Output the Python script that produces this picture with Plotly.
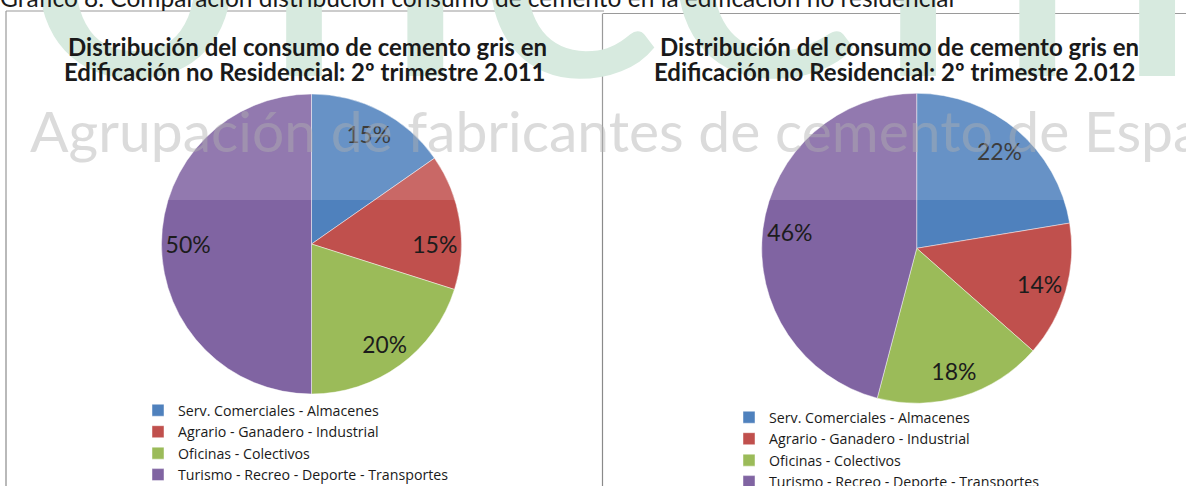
import plotly.graph_objects as go

W, H = 1186, 486

categorias = ["Serv. Comerciales - Almacenes",
              "Agrario - Ganadero - Industrial",
              "Oficinas - Colectivos",
              "Turismo - Recreo - Deporte - Transportes"]
colores = ["#4F81BD", "#C0504D", "#9BBB59", "#8064A2"]

# porcentajes
valores_2011 = [15.3, 14.6, 20.1, 50.0]
valores_2012 = [22.4, 14.1, 17.6, 45.9]

titulo_2011 = ["Distribución del consumo de cemento gris en",
               "Edificación no Residencial: 2º trimestre 2.011"]
titulo_2012 = ["Distribución del consumo de cemento gris en",
               "Edificación no Residencial: 2º trimestre 2.012"]
rotulo = "Gráfico 8. Comparación distribución consumo de cemento en la edificación no residencial"
marca_verde = "oficemen"
marca_gris = "Agrupación de fabricantes de cemento de España"


def fx(x):
    return x / W


def fy(y):
    return 1 - y / H


def dominio(cx, cy, r):
    return dict(x=[fx(cx - r), fx(cx + r)], y=[fy(cy + r), fy(cy - r)])


fig = go.Figure()

pies = [(valores_2011, dominio(311.5, 244, 150), "legend", "a2011"),
        (valores_2012, dominio(916.7, 248.3, 155), "legend2", "a2012")]

for vals, dom, leg, grupo in pies:
    # tarta con colores y leyenda
    fig.add_trace(go.Pie(
        labels=categorias, values=vals, domain=dom, sort=False,
        direction="clockwise", rotation=0,
        marker=dict(colors=colores, line=dict(color="rgba(255,255,255,0.45)", width=1)),
        textinfo="none", legend=leg, legendgroup=grupo, hoverinfo="label+percent"))
    # misma tarta en anillo transparente solo para colocar las etiquetas
    fig.add_trace(go.Pie(
        labels=categorias, values=vals, domain=dom, sort=False,
        direction="clockwise", rotation=0, hole=0.65,
        marker=dict(colors=["rgba(0,0,0,0)"] * 4, line=dict(width=0)),
        texttemplate="%{percent:.0%}", textposition="inside",
        insidetextorientation="horizontal",
        insidetextfont=dict(family="Lato", size=23, color="#1c1c1c"),
        showlegend=False, legendgroup=grupo, hoverinfo="skip"))

titulo_font = dict(family="Lato", size=24, color="#1a1a1a", weight="bold")

annotations = [
    dict(text=marca_verde, x=fx(20), y=fy(163), xanchor="left", yanchor="bottom",
         font=dict(family="Lato", size=400, color="#d7eadf"), showarrow=False),
    dict(text=rotulo, x=fx(-2), y=fy(13.7), xanchor="left", yanchor="bottom",
         font=dict(family="Lato", size=24.5, color="#1a1a1a"), showarrow=False),
    dict(text=titulo_2011[0], x=fx(66), y=fy(46), xanchor="left", yanchor="middle",
         font=titulo_font, showarrow=False),
    dict(text=titulo_2011[1], x=fx(62), y=fy(71.5), xanchor="left", yanchor="middle",
         font=titulo_font, showarrow=False),
    dict(text=titulo_2012[0], x=fx(658), y=fy(46), xanchor="left", yanchor="middle",
         font=titulo_font, showarrow=False),
    dict(text=titulo_2012[1], x=fx(652), y=fy(71.5), xanchor="left", yanchor="middle",
         font=titulo_font, showarrow=False),
    dict(text=marca_gris, x=fx(28), y=fy(166), xanchor="left", yanchor="bottom",
         font=dict(family="Lato", size=57, color="rgba(175,175,175,0.45)"),
         showarrow=False),
]

lineas = dict(type="line", xref="paper", yref="paper", line=dict(color="#8a8a8a", width=1.2))
shapes = [
    dict(lineas, x0=fx(6), x1=fx(604), y0=fy(11), y1=fy(11)),
    dict(lineas, x0=fx(6), x1=fx(6), y0=fy(11), y1=0),
    dict(lineas, x0=fx(602.5), x1=fx(602.5), y0=fy(13.5), y1=0),
    dict(lineas, x0=fx(603), x1=1, y0=fy(13.5), y1=fy(13.5)),
    # franja blanca semitransparente de la marca de agua
    dict(type="rect", xref="paper", yref="paper", x0=0, x1=1, y0=fy(200), y1=1,
         fillcolor="rgba(255,255,255,0.14)", line=dict(width=0), layer="above"),
]

leyenda = dict(xanchor="left", yanchor="top", bgcolor="rgba(0,0,0,0)",
               font=dict(family="Open Sans", size=14.2, color="#1a1a1a"))

fig.update_layout(
    width=W, height=H,
    margin=dict(l=0, r=0, t=0, b=0, autoexpand=False),
    paper_bgcolor="white", plot_bgcolor="white",
    annotations=annotations, shapes=shapes,
    legend=dict(leyenda, x=fx(138), y=fy(394.5)),
    legend2=dict(leyenda, x=fx(729), y=fy(401.5)),
)

fig.write_html("out.html", config={"displayModeBar": False},
               post_script="document.body.style.margin='0';")
